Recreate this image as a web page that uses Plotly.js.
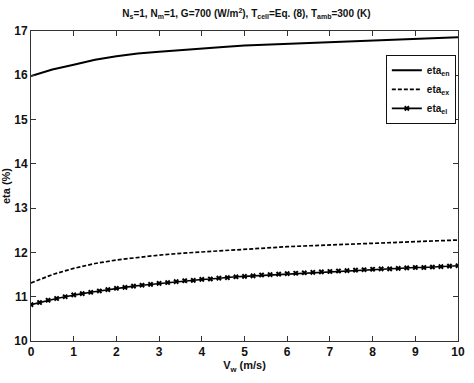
<!DOCTYPE html>
<html><head><meta charset="utf-8">
<script src="https://cdn.plot.ly/plotly-3.0.1.min.js"></script>
<style>html,body{margin:0;padding:0;background:#fff;}#chart{width:474px;height:383px;}</style>
</head><body><div id="chart"></div>
<script>
const xEn = [0, 0.5, 1, 1.5, 2, 2.5, 3, 3.5, 4, 4.5, 5, 5.5, 6, 6.5, 7, 7.5, 8, 8.5, 9, 9.5, 10];
const etaEn = [15.98, 16.13, 16.24, 16.35, 16.43, 16.49, 16.53, 16.57, 16.61, 16.64, 16.67, 16.69, 16.71, 16.73, 16.75, 16.77, 16.79, 16.81, 16.83, 16.85, 16.86];
const xEx = [0, 0.5, 1, 1.5, 2, 2.5, 3, 3.5, 4, 4.5, 5, 5.5, 6, 6.5, 7, 7.5, 8, 8.5, 9, 9.5, 10];
const etaEx = [11.31, 11.50, 11.64, 11.75, 11.83, 11.89, 11.94, 11.98, 12.01, 12.05, 12.08, 12.11, 12.13, 12.15, 12.17, 12.19, 12.21, 12.23, 12.25, 12.27, 12.28];
const xEl = [0,0.2,0.4,0.6,0.8,1,1.2,1.4,1.6,1.8,2,2.2,2.4,2.6,2.8,3,3.2,3.4,3.6,3.8,4,4.2,4.4,4.6,4.8,5,5.2,5.4,5.6,5.8,6,6.2,6.4,6.6,6.8,7,7.2,7.4,7.6,7.8,8,8.2,8.4,8.6,8.8,9,9.2,9.4,9.6,9.8,10];
const etaEl = [10.82,10.87,10.92,10.96,11.00,11.04,11.07,11.10,11.13,11.16,11.19,11.21,11.24,11.26,11.28,11.30,11.32,11.34,11.36,11.37,11.39,11.40,11.42,11.43,11.45,11.46,11.47,11.49,11.50,11.51,11.52,11.53,11.54,11.55,11.56,11.57,11.58,11.59,11.60,11.61,11.62,11.63,11.63,11.64,11.65,11.66,11.66,11.67,11.68,11.69,11.70];
const xTicks = [0,1,2,3,4,5,6,7,8,9,10];
const yTicks = [10,11,12,13,14,15,16,17];

const font = {family: 'Liberation Sans, Arial, sans-serif', size: 12, color: '#111', weight: 'bold'};
const traces = [
  {x: xEn, y: etaEn, mode: 'lines', name: 'eta<sub>en</sub>', line: {color: '#000', width: 2}},
  {x: xEx, y: etaEx, mode: 'lines', name: 'eta<sub>ex</sub>', line: {color: '#000', width: 1.7, dash: '4px,2px'}},
  {x: xEl, y: etaEl, mode: 'lines+markers', name: 'eta<sub>el</sub>', line: {color: '#000', width: 1.6},
   marker: {symbol: 'x', size: 5, color: '#000'}}
];
const axis = {showgrid: false, zeroline: false, showline: true, linecolor: '#333', linewidth: 1, mirror: 'ticks',
  ticks: 'inside', ticklen: 5, tickwidth: 1, tickcolor: '#333', tickfont: font};
const layout = {
  width: 474, height: 383,
  margin: {l: 31, r: 16, t: 31, b: 42},
  paper_bgcolor: '#fff', plot_bgcolor: '#fff',
  font: font,
  title: {text: 'N<sub>s</sub>=1, N<sub>m</sub>=1, G=700 (W/m<sup>2</sup>), T<sub>cell</sub>=Eq. (8), T<sub>amb</sub>=300 (K)',
    font: {family: font.family, size: 10, color: '#111', weight: 'bold'}, x: 0.52, xanchor: 'center', y: 0.965, yanchor: 'middle'},
  xaxis: Object.assign({}, axis, {range: [0, 10], tickvals: xTicks, ticktext: xTicks.map(String),
    title: {text: 'V<sub>w</sub> (m/s)', font: {family: font.family, size: 11, color: '#111', weight: 'bold'}, standoff: 2}}),
  yaxis: Object.assign({}, axis, {range: [10, 17], tickvals: yTicks, ticktext: yTicks.map(String),
    title: {text: 'eta (%)', font: {family: font.family, size: 11, color: '#111', weight: 'bold'}, standoff: 4}}),
  showlegend: true,
  legend: {x: 0.831, y: 0.923, xanchor: 'left', yanchor: 'top', bgcolor: '#fff', bordercolor: '#111', borderwidth: 1,
    font: {family: font.family, size: 10, color: '#111', weight: 'bold'}, tracegroupgap: 0, itemwidth: 30}
};
Plotly.newPlot('chart', traces, layout, {displayModeBar: false, staticPlot: true});
</script></body></html>
